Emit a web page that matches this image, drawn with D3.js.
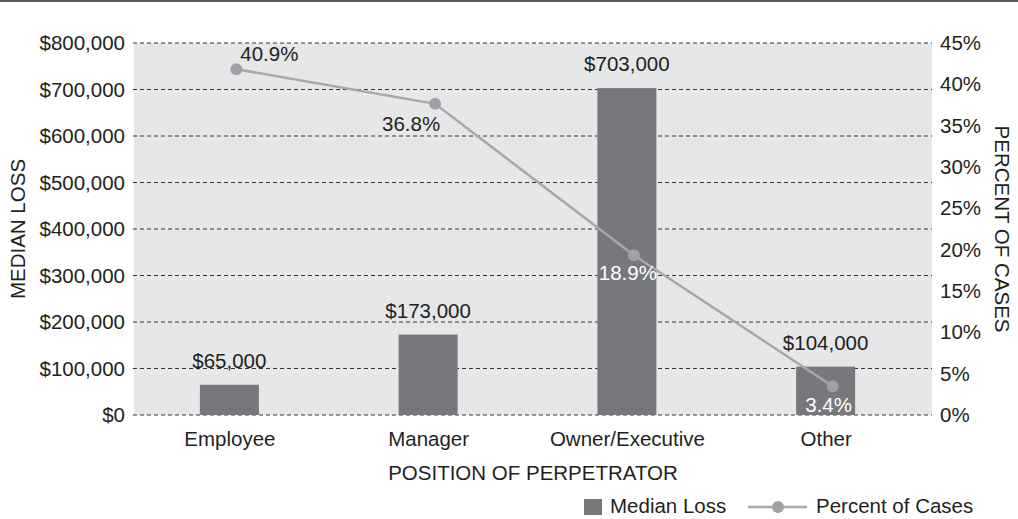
<!DOCTYPE html>
<html>
<head>
<meta charset="utf-8">
<script src="https://cdn.jsdelivr.net/npm/d3@7"></script>
<style>
  body { margin: 0; background: #fff; }
  svg text { font-family: "Liberation Sans", Arial, Helvetica, sans-serif; fill: #231f20; font-size: 20.5px; }
</style>
</head>
<body>
<div id="chart"></div>
<script>
// data
var categories = ["Employee", "Manager", "Owner/Executive", "Other"];
var medianLoss = [65000, 173000, 703000, 104000];
var percentCases = [40.9, 36.8, 18.9, 3.4];
var lossTicks = [0, 100000, 200000, 300000, 400000, 500000, 600000, 700000, 800000];
var pctTicks = [0, 5, 10, 15, 20, 25, 30, 35, 40, 45];

// where the % labels sit relative to their dots
var pctLabelOffsets = [[33, -8], [-24, 27], [-6, 25], [-4, 26]];
var pctLabelColors = ["#231f20", "#231f20", "#fff", "#fff"];

var width = 1018, height = 519;
var plot = { left: 134, right: 932, top: 43, bottom: 415 };

var svg = d3.select("#chart").append("svg")
    .attr("width", width)
    .attr("height", height);

// top rule
svg.append("rect").attr("x", 0).attr("y", 0).attr("width", width).attr("height", 2).attr("fill", "#58595b");

svg.append("rect")
    .attr("x", plot.left).attr("y", plot.top)
    .attr("width", plot.right - plot.left).attr("height", plot.bottom - plot.top)
    .attr("fill", "#e6e7e8");

var yLoss = d3.scaleLinear().domain([0, 800000]).range([plot.bottom, plot.top]);
var yPct = d3.scaleLinear().domain([0, 45]).range([plot.bottom, plot.top]);
// the line in the original is plotted a bit steeper than its axis (top ~44%)
var yPctLine = d3.scaleLinear().domain([0, 44]).range([plot.bottom, plot.top]);

var xBar = d3.scalePoint().domain(categories).range([130, 925]).padding(0.5);
var xLine = d3.scalePoint().domain(categories).range([137, 932]).padding(0.5);
var barWidth = 59;

// gridlines
svg.append("g").selectAll("line").data(lossTicks).enter().append("line")
    .attr("x1", plot.left - 1).attr("x2", plot.right)
    .attr("y1", function (d) { return yLoss(d); })
    .attr("y2", function (d) { return yLoss(d); })
    .attr("stroke", "#333")
    .attr("stroke-width", 1)
    .attr("stroke-dasharray", "4,3");

// left axis
var fmtMoney = function (d) { return "$" + d3.format(",")(d); };
var leftAxis = svg.append("g")
    .attr("transform", "translate(" + (plot.left - 9) + ",0)")
    .call(d3.axisLeft(yLoss).tickValues(lossTicks).tickFormat(fmtMoney).tickSize(0).tickPadding(0));
leftAxis.select(".domain").remove();
leftAxis.selectAll("text").style("font-size", "20.5px").attr("fill", "#231f20");

// right axis
var rightAxis = svg.append("g")
    .attr("transform", "translate(" + (plot.right + 8) + ",0)")
    .call(d3.axisRight(yPct).tickValues(pctTicks).tickFormat(function (d) { return d + "%"; }).tickSize(0).tickPadding(0));
rightAxis.select(".domain").remove();
rightAxis.selectAll("text").style("font-size", "20.5px").attr("fill", "#231f20");

// bottom category labels
var bottomAxis = svg.append("g")
    .attr("transform", "translate(0," + plot.bottom + ")")
    .call(d3.axisBottom(xBar).tickSize(0).tickPadding(0));
bottomAxis.select(".domain").remove();
bottomAxis.selectAll("text").style("font-size", "20.5px").attr("fill", "#231f20").attr("dy", "1.5em");

// bars
svg.append("g").selectAll("rect").data(medianLoss).enter().append("rect")
    .attr("x", function (d, i) { return xBar(categories[i]) - barWidth / 2; })
    .attr("y", function (d) { return yLoss(d); })
    .attr("width", barWidth)
    .attr("height", function (d) { return plot.bottom - yLoss(d); })
    .attr("fill", "#77787b");

svg.append("g").selectAll("text").data(medianLoss).enter().append("text")
    .attr("x", function (d, i) { return xBar(categories[i]); })
    .attr("y", function (d) { return yLoss(d) - 17; })
    .attr("text-anchor", "middle")
    .text(fmtMoney);

// line
var line = d3.line()
    .x(function (d, i) { return xLine(categories[i]); })
    .y(function (d) { return yPctLine(d); });

svg.append("path").datum(percentCases)
    .attr("d", line)
    .attr("fill", "none")
    .attr("stroke", "#a7a8ab")
    .attr("stroke-width", 2.5);

svg.append("g").selectAll("circle").data(percentCases).enter().append("circle")
    .attr("cx", function (d, i) { return xLine(categories[i]); })
    .attr("cy", function (d) { return yPctLine(d); })
    .attr("r", 6)
    .attr("fill", "#a0a1a4");

svg.append("g").selectAll("text").data(percentCases).enter().append("text")
    .attr("x", function (d, i) { return xLine(categories[i]) + pctLabelOffsets[i][0]; })
    .attr("y", function (d, i) { return yPctLine(d) + pctLabelOffsets[i][1]; })
    .attr("text-anchor", "middle")
    .style("fill", function (d, i) { return pctLabelColors[i]; })
    .text(function (d) { return d + "%"; });

// axis titles
svg.append("text")
    .attr("transform", "translate(25," + ((plot.top + plot.bottom) / 2) + ") rotate(-90)")
    .attr("text-anchor", "middle")
    .text("MEDIAN LOSS");

svg.append("text")
    .attr("transform", "translate(995," + ((plot.top + plot.bottom) / 2) + ") rotate(90)")
    .attr("text-anchor", "middle")
    .text("PERCENT OF CASES");

svg.append("text")
    .attr("x", (plot.left + plot.right) / 2)
    .attr("y", 480)
    .attr("text-anchor", "middle")
    .text("POSITION OF PERPETRATOR");

// legend
var legend = svg.append("g").attr("transform", "translate(584,499)");
legend.append("rect").attr("x", 0).attr("y", 0).attr("width", 18).attr("height", 16).attr("fill", "#77787b");
legend.append("text").attr("x", 26).attr("y", 14).text("Median Loss");
legend.append("line").attr("x1", 164).attr("x2", 223).attr("y1", 8).attr("y2", 8)
    .attr("stroke", "#a7a8ab").attr("stroke-width", 2.5);
legend.append("circle").attr("cx", 194).attr("cy", 8).attr("r", 6).attr("fill", "#a0a1a4");
legend.append("text").attr("x", 232).attr("y", 14).text("Percent of Cases");
</script>
</body>
</html>
